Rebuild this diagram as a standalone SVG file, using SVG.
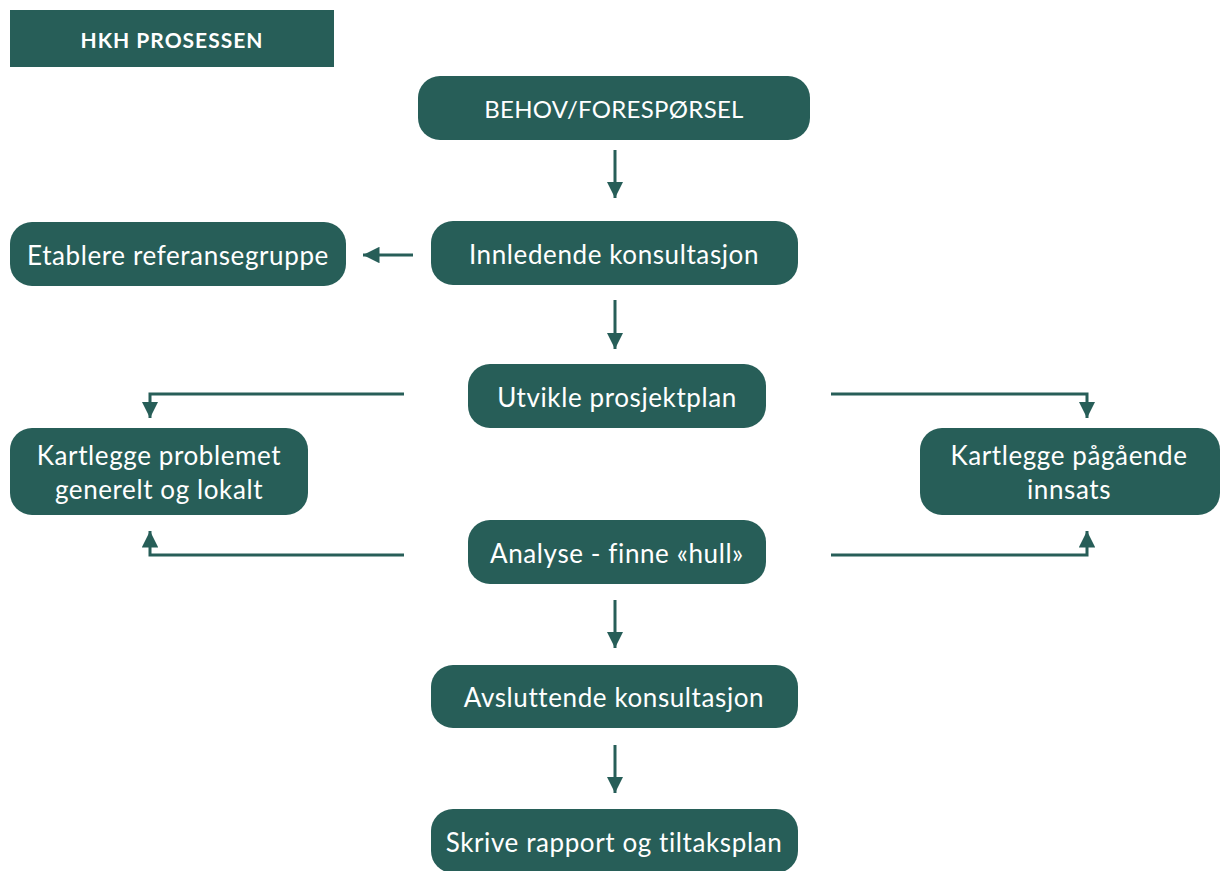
<svg xmlns="http://www.w3.org/2000/svg" width="1220" height="871" viewBox="0 0 1220 871">
<defs>
<style>
.n{fill:#275e58}
.t{fill:#ffffff;font-family:Lato,"Open Sans",sans-serif;font-size:26px;letter-spacing:0.6px;text-anchor:middle}
.u{font-size:24px;letter-spacing:0.3px}
.h{fill:#ffffff;font-family:Lato,"Open Sans",sans-serif;font-size:21px;font-weight:bold;letter-spacing:1px;text-anchor:middle}
.c{fill:none;stroke:#275e58;stroke-width:3}
</style>
<marker id="ah" viewBox="0 0 10 10" refX="10" refY="5" markerWidth="5.5" markerHeight="5.5" orient="auto" markerUnits="strokeWidth">
<path d="M0,0 L10,5 L0,10 Z" fill="#275e58"/>
</marker>
</defs>
<rect width="1220" height="871" fill="#ffffff"/>
<g id="title"><rect x="10" y="10" width="324" height="57" class="n"/><text x="172" y="48" class="h">HKH PROSESSEN</text></g>
<g id="behov"><rect x="418" y="76" width="392" height="64" rx="22" class="n"/><text x="614" y="118" class="t u">BEHOV/FORESPØRSEL</text></g>
<g id="innledende"><rect x="431" y="221" width="367" height="64" rx="22" class="n"/><text x="614" y="264" class="t">Innledende konsultasjon</text></g>
<g id="etablere"><rect x="10" y="222" width="336" height="64" rx="22" class="n"/><text x="178" y="265" class="t">Etablere referansegruppe</text></g>
<g id="utvikle"><rect x="468" y="364" width="298" height="64" rx="22" class="n"/><text x="617" y="407" class="t">Utvikle prosjektplan</text></g>
<g id="kartlegge-problemet"><rect x="10" y="428" width="298" height="87" rx="22" class="n"/><text x="159" y="465" class="t">Kartlegge problemet</text><text x="159" y="499" class="t">generelt og lokalt</text></g>
<g id="kartlegge-innsats"><rect x="920" y="428" width="300" height="87" rx="22" class="n"/><text x="1069" y="465" class="t">Kartlegge pågående</text><text x="1069" y="499" class="t">innsats</text></g>
<g id="analyse"><rect x="468" y="520" width="298" height="64" rx="22" class="n"/><text x="617" y="563" class="t">Analyse - finne «hull»</text></g>
<g id="avsluttende"><rect x="431" y="665" width="367" height="63" rx="22" class="n"/><text x="614" y="707" class="t">Avsluttende konsultasjon</text></g>
<g id="skrive"><rect x="431" y="809" width="367" height="64" rx="22" class="n"/><text x="614" y="852" class="t">Skrive rapport og tiltaksplan</text></g>
<g id="connectors">
<line x1="615" y1="150" x2="615" y2="198" class="c" marker-end="url(#ah)"/>
<line x1="413" y1="255" x2="363" y2="255" class="c" marker-end="url(#ah)"/>
<line x1="615" y1="300" x2="615" y2="349" class="c" marker-end="url(#ah)"/>
<polyline points="404,394 150,394 150,418" class="c" marker-end="url(#ah)"/>
<polyline points="831,394 1087,394 1087,418" class="c" marker-end="url(#ah)"/>
<polyline points="404,555 150,555 150,531" class="c" marker-end="url(#ah)"/>
<polyline points="831,555 1087,555 1087,531" class="c" marker-end="url(#ah)"/>
<line x1="615" y1="600" x2="615" y2="648" class="c" marker-end="url(#ah)"/>
<line x1="615" y1="745" x2="615" y2="793" class="c" marker-end="url(#ah)"/>
</g>
</svg>
